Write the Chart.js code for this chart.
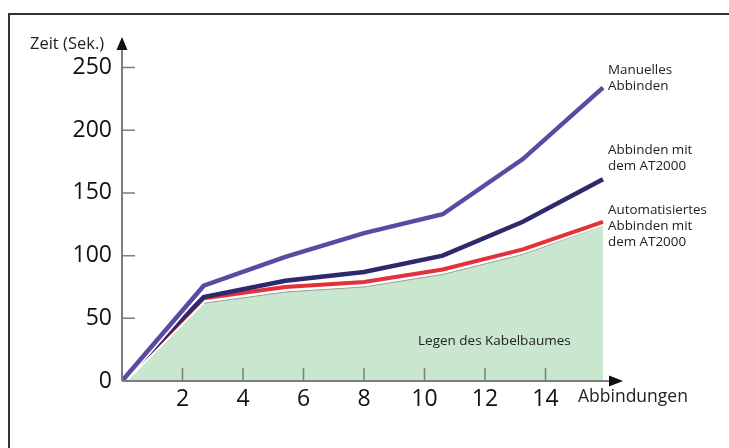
<!DOCTYPE html>
<html>
<head>
<meta charset="utf-8">
<script src="https://cdn.jsdelivr.net/npm/chart.js@4/dist/chart.umd.min.js"></script>
<style>
  html, body { margin: 0; padding: 0; background: #fff; }
  #wrap { width: 729px; height: 448px; position: relative; }
</style>
</head>
<body>
<div id="wrap"><canvas id="chart"></canvas></div>
<script>
// Werte
const abbindungen = [0, 2.7, 5.4, 8, 10.6, 13.25, 15.9];
const manuell = [0, 76, 99, 118, 133, 177, 234];
const mitAT2000 = [0, 67, 80, 87, 100, 127, 161];
const automatisiert = [0, 66, 75, 79, 89, 105, 127];
const legen = [0, 62, 71, 75, 85, 101, 124];
const xTicks = [2, 4, 6, 8, 10, 12, 14];
const yTicks = [0, 50, 100, 150, 200, 250];

const serienLabels = [
  { lines: ["Manuelles", "Abbinden"], y: 70 },
  { lines: ["Abbinden mit", "dem AT2000"], y: 150 },
  { lines: ["Automatisiertes", "Abbinden mit", "dem AT2000"], y: 210 },
];

const pts = arr => arr.map((v, i) => ({ x: abbindungen[i], y: v }));

function lineSet(data, color, width, order) {
  return {
    data: pts(data),
    borderColor: color,
    borderWidth: width,
    pointRadius: 0,
    tension: 0,
    fill: false,
    order,
    borderJoinStyle: "miter",
  };
}

const decor = {
  id: "decor",
  beforeDraw(chart) {
    const c = chart.ctx;
    c.save();
    c.strokeStyle = "#333";
    c.lineWidth = 2;
    c.strokeRect(9, 14, 800, 500);
    c.restore();
  },
  afterDatasetsDraw(chart) {
    const c = chart.ctx;
    const xs = chart.scales.x, ys = chart.scales.y;
    const x0 = xs.getPixelForValue(0);
    const y0 = ys.getPixelForValue(0);
    const top = chart.chartArea.top;
    c.save();
    // Achsen
    c.strokeStyle = "#7d7d7d";
    c.lineWidth = 2;
    c.beginPath();
    c.moveTo(x0, y0);
    c.lineTo(x0, top + 8);
    c.moveTo(x0, y0);
    c.lineTo(612, y0);
    c.stroke();
    // Teilstriche nach innen
    c.lineWidth = 1.5;
    c.beginPath();
    yTicks.slice(1).forEach(v => {
      const p = ys.getPixelForValue(v);
      c.moveTo(x0, p);
      c.lineTo(x0 + 13, p);
    });
    xTicks.forEach(v => {
      const p = xs.getPixelForValue(v);
      c.moveTo(p, y0);
      c.lineTo(p, y0 - 13);
    });
    c.stroke();
    // Pfeile
    c.fillStyle = "#111";
    c.beginPath();
    c.moveTo(x0, top - 3);
    c.lineTo(x0 - 5.5, top + 10);
    c.lineTo(x0 + 5.5, top + 10);
    c.closePath();
    c.fill();
    c.beginPath();
    c.moveTo(623, y0);
    c.lineTo(609, y0 - 5.5);
    c.lineTo(609, y0 + 5.5);
    c.closePath();
    c.fill();
    // Texte
    c.fillStyle = "#222";
    c.textBaseline = "middle";
    c.textAlign = "left";
    c.font = "16.5px 'Open Sans'";
    c.fillText("Zeit (Sek.)", 30, 44);
    c.font = "17.5px 'Open Sans'";
    c.fillText("Abbindungen", 578, 397);
    c.font = "13.4px 'Open Sans'";
    serienLabels.forEach(s => {
      s.lines.forEach((t, i) => c.fillText(t, 608, s.y + i * 16));
    });
    c.font = "13.5px 'Open Sans'";
    c.fillText("Legen des Kabelbaumes", 418, 341);
    c.restore();
  },
};

new Chart(document.getElementById("chart"), {
  type: "line",
  data: {
    datasets: [
      {
        data: pts(legen),
        borderColor: "#9a9a9a",
        borderWidth: 1,
        backgroundColor: "#c9e6cf",
        fill: "origin",
        pointRadius: 0,
        tension: 0,
        order: 10,
      },
      lineSet(automatisiert, "#ffffff", 8, 9),
      lineSet(automatisiert, "#e3303b", 4, 8),
      lineSet(mitAT2000, "#2c2a6c", 4.5, 6),
      lineSet(manuell, "#ffffff", 8, 5),
      lineSet(manuell, "#5b4aa2", 4.5, 4),
    ],
  },
  options: {
    responsive: true,
    maintainAspectRatio: false,
    animation: false,
    layout: { padding: { top: 40, right: 123, left: 0, bottom: 0 } },
    plugins: { legend: { display: false }, tooltip: { enabled: false } },
    scales: {
      x: {
        type: "linear",
        min: 0,
        max: 16,
        grid: { display: false, drawTicks: false },
        border: { display: false },
        afterBuildTicks: s => { s.ticks = xTicks.map(v => ({ value: v })); },
        afterFit: s => { s.height = 67; },
        ticks: { padding: 5, color: "#111", font: { family: "Open Sans", size: 23 } },
      },
      y: {
        min: 0,
        max: 272,
        grid: { display: false, drawTicks: false },
        border: { display: false },
        afterBuildTicks: s => { s.ticks = yTicks.map(v => ({ value: v })); },
        afterFit: s => { s.width = 122; },
        ticks: { padding: 10, color: "#111", font: { family: "Open Sans", size: 23 } },
      },
    },
  },
  plugins: [decor],
});
</script>
</body>
</html>
